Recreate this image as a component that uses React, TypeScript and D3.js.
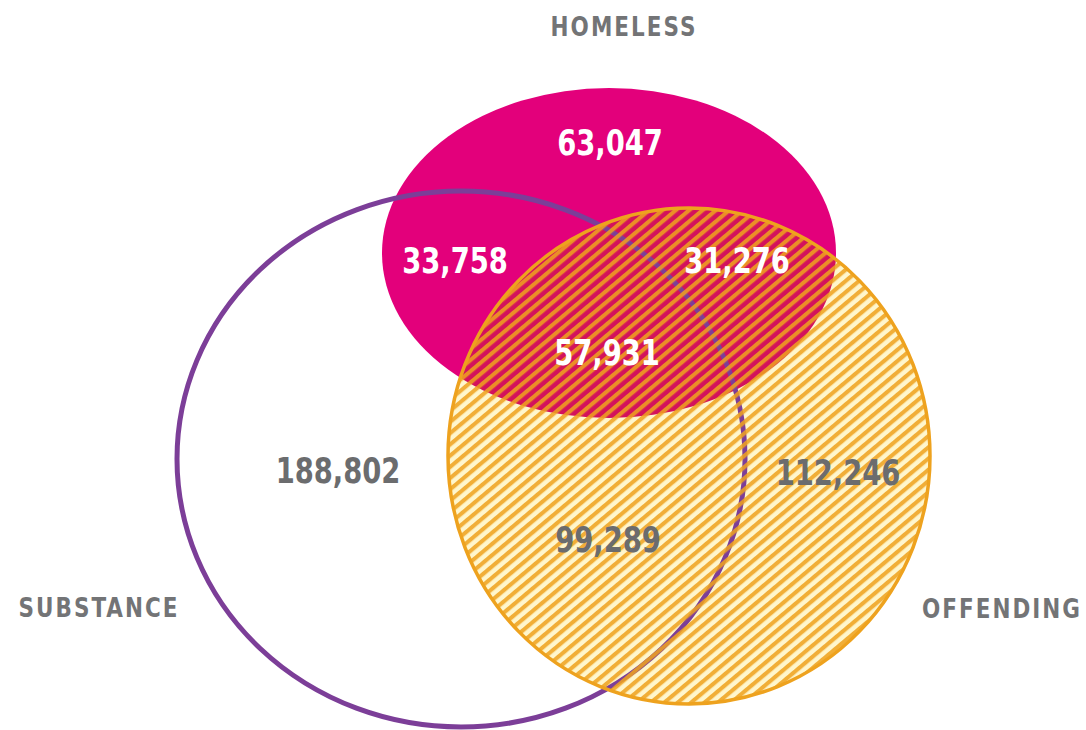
import * as d3 from "d3";

// sets and the seven Venn regions (H = homeless, S = substance, O = offending)
const setKeys = ["H", "S", "O"];
const setNames = ["HOMELESS", "SUBSTANCE", "OFFENDING"];
const regionKeys = ["H", "HS", "HO", "HSO", "S", "SO", "O"];
const regionValues = [63047, 33758, 31276, 57931, 188802, 99289, 112246];

const W = 1086;
const H = 730;

// diagram geometry
const shapes: Record<string, { cx: number; cy: number; rx: number; ry: number }> = {
  H: { cx: 609, cy: 253, rx: 227, ry: 165 },
  S: { cx: 461, cy: 459, rx: 284, ry: 268 },
  O: { cx: 689, cy: 456, rx: 241, ry: 248 },
};
const regionPos: Record<string, [number, number]> = {
  H: [610, 143],
  HS: [455, 261],
  HO: [737, 261],
  HSO: [607, 353],
  S: [338, 471],
  SO: [608, 540],
  O: [838, 473],
};
const labelPos: Record<string, [number, number]> = {
  H: [624, 27],
  S: [99, 608],
  O: [1002, 609],
};

const MAGENTA = "#e3007b";
const CRIMSON = "#d3125c";
const CREAM = "#fff6cc";
const AMBER = "#eea21e";
const PURPLE = "#7c3e98";
const GREY = "#6b6c6e";

const fmt = d3.format(",");
const font = "'DejaVu Sans Condensed', 'DejaVu Sans', sans-serif";

export default function App() {
  const h = shapes.H;
  const s = shapes.S;
  const o = shapes.O;

  return (
    <svg
      width={W}
      height={H}
      viewBox={`0 0 ${W} ${H}`}
      style={{ position: "absolute", left: 0, top: 0, background: "#fff" }}
    >
      <defs>
        <pattern
          id="hatch"
          patternUnits="userSpaceOnUse"
          width={20}
          height={8.6}
          patternTransform="rotate(-40)"
        >
          <rect x={0} y={0} width={20} height={4.1} fill={AMBER} fillOpacity={0.86} />
        </pattern>
        <clipPath id="clipO">
          <ellipse cx={o.cx} cy={o.cy} rx={o.rx} ry={o.ry} />
        </clipPath>
      </defs>

      {/* homeless */}
      <ellipse cx={h.cx} cy={h.cy} rx={h.rx} ry={h.ry} fill={MAGENTA} />

      {/* offending base */}
      <ellipse cx={o.cx} cy={o.cy} rx={o.rx} ry={o.ry} fill={CREAM} />
      <g clipPath="url(#clipO)">
        <ellipse cx={h.cx} cy={h.cy} rx={h.rx} ry={h.ry} fill={CRIMSON} />
      </g>

      {/* substance outline */}
      <ellipse
        cx={s.cx}
        cy={s.cy}
        rx={s.rx}
        ry={s.ry}
        fill="none"
        stroke={PURPLE}
        strokeWidth={5}
      />

      {/* offending hatch + outline */}
      <ellipse cx={o.cx} cy={o.cy} rx={o.rx} ry={o.ry} fill="url(#hatch)" />
      <ellipse
        cx={o.cx}
        cy={o.cy}
        rx={o.rx}
        ry={o.ry}
        fill="none"
        stroke={AMBER}
        strokeWidth={3.5}
      />

      {/* region values */}
      {regionKeys.map((k, i) => {
        const [x, y] = regionPos[k];
        return (
          <g key={k} transform={`translate(${x},${y}) scale(0.87,1)`}>
            <text
              textAnchor="middle"
              dominantBaseline="central"
              fontFamily={font}
              fontWeight="bold"
              fontSize={35}
              fill={k.includes("H") ? "#fff" : GREY}
            >
              {fmt(regionValues[i])}
            </text>
          </g>
        );
      })}

      {/* set labels */}
      {setKeys.map((k, i) => {
        const [x, y] = labelPos[k];
        return (
          <g key={k} transform={`translate(${x},${y}) scale(0.92,1)`}>
            <text
              textAnchor="middle"
              dominantBaseline="central"
              fontFamily={font}
              fontWeight="bold"
              fontSize={26}
              letterSpacing={2.2}
              fill="#737476"
            >
              {setNames[i]}
            </text>
          </g>
        );
      })}
    </svg>
  );
}
